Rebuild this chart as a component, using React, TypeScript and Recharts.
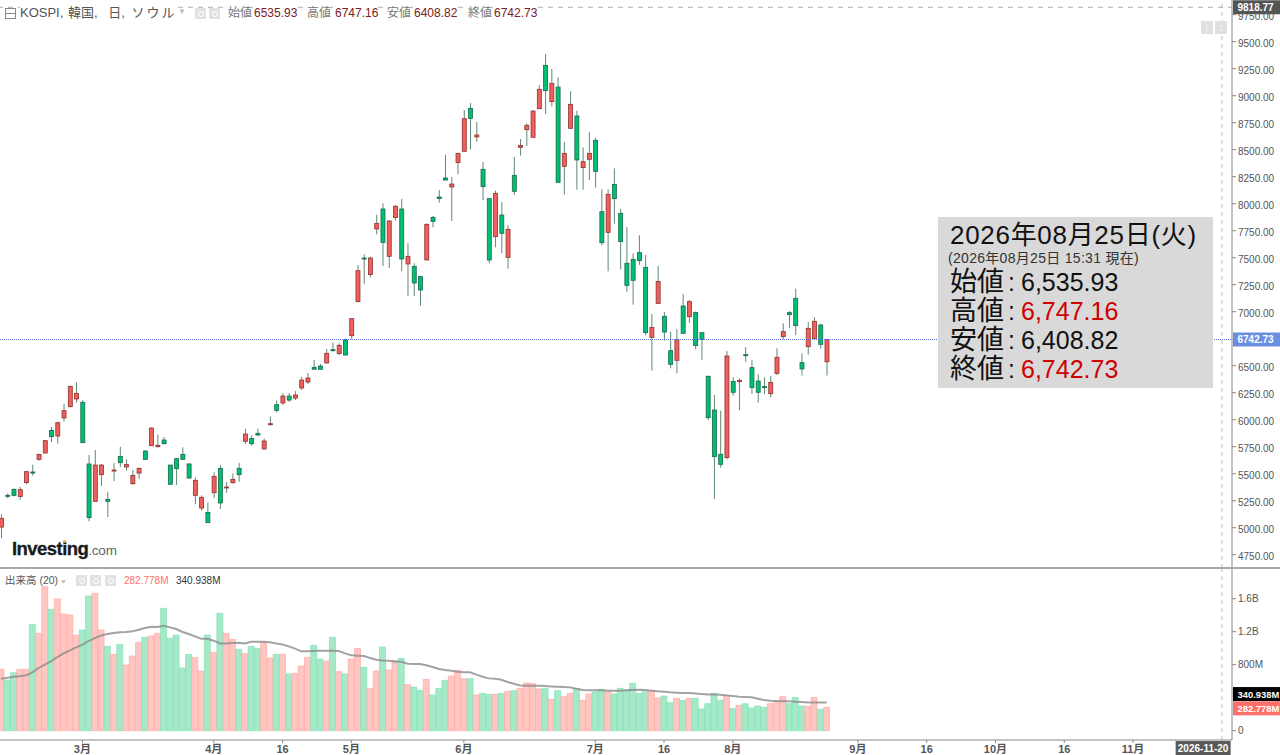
import { Bar, Cell, ComposedChart, Line, ReferenceLine, XAxis, YAxis } from 'recharts';

const FONT = '"Liberation Sans", "Noto Sans CJK JP", sans-serif';
const UP = '#f0605a';
const DOWN = '#00bf73';

const opens = [
  5006, 5300, 5355, 5290, 5417, 5516, 5633, 5692, 5901, 5849,
  6016, 6121, 6192, 6161, 5590, 5244, 5491, 5263, 5525, 5661,
  5562, 5408, 5506, 5710, 5759, 5750, 5812, 5580, 5639, 5679,
  5590, 5300, 5182, 5142, 5324, 5550, 5371, 5417, 5550, 5800,
  5827, 5874, 5729, 5954, 6139, 6155, 6219, 6200, 6294, 6349,
  6485, 6497, 6525, 6649, 6612, 6738, 6778, 7093, 7497, 7343,
  7766, 7951, 7513, 7871, 7951, 7442, 7420, 7325, 7479, 7874,
  8062, 8238, 8155, 8380, 8485, 8883, 8618, 8318, 8047, 7695,
  7895, 7503, 8263, 8522, 8685, 8615, 8880, 9281, 8945, 9080,
  8346, 8698, 8812, 8334, 8411, 8587, 7926, 7735, 8179, 7911,
  7448, 7485, 7547, 7411, 6763, 7077, 6957, 6639, 6550, 7053,
  6954, 6994, 6806, 6402, 6090, 5680, 5649, 6355, 6352, 6602,
  6482, 6358, 6306, 6241, 6429, 6769, 6991, 7124, 6528, 6676,
  6753, 6877, 6535.93,
];
const highs = [
  5124, 5318, 5364, 5377, 5525, 5584, 5685, 5812, 5932, 5982,
  6148, 6315, 6346, 6179, 5673, 5719, 5590, 5330, 5599, 5750,
  5633, 5534, 5556, 5719, 5929, 5861, 5840, 5580, 5645, 5744,
  5596, 5466, 5300, 5235, 5513, 5580, 5423, 5503, 5599, 5917,
  5855, 5917, 5827, 6031, 6179, 6247, 6247, 6265, 6395, 6432,
  6553, 6516, 6655, 6713, 6707, 6751, 6936, 7433, 7531, 7510,
  7898, 8003, 7849, 7988, 8044, 7633, 7448, 7325, 7818, 7886,
  8127, 8454, 8247, 8472, 8868, 8932, 8756, 8386, 8047, 8121,
  8014, 7803, 8432, 8599, 8744, 8864, 9099, 9386, 9247, 9170,
  8571, 9040, 8861, 8522, 8661, 8611, 8133, 8133, 8327, 7951,
  7784, 7541, 7707, 7525, 6979, 7423, 6997, 6815, 6837, 7164,
  7108, 7000, 6806, 6408, 6229, 6082, 6636, 6392, 6383, 6673,
  6553, 6420, 6392, 6405, 6661, 6892, 7006, 7213, 6614, 6905,
  6948, 6889, 6747.16,
];
const lows = [
  4902, 5272, 5290, 5260, 5402, 5482, 5621, 5688, 5793, 5778,
  5982, 6114, 6158, 5787, 5059, 5244, 5386, 5099, 5432, 5562,
  5528, 5395, 5451, 5633, 5759, 5744, 5769, 5402, 5395, 5633,
  5451, 5219, 5158, 5047, 5275, 5173, 5324, 5408, 5426, 5775,
  5759, 5852, 5726, 5945, 6065, 6136, 6164, 6182, 6275, 6330,
  6460, 6467, 6522, 6630, 6596, 6596, 6744, 7087, 7257, 7318,
  7716, 7423, 7405, 7843, 7374, 7146, 7146, 7056, 7479, 7781,
  8010, 8219, 7840, 8272, 8482, 8503, 8574, 8034, 7448, 7596,
  7541, 7399, 8081, 8445, 8534, 8611, 8874, 8830, 8901, 8195,
  8084, 8695, 8130, 8130, 8219, 8148, 7615, 7374, 7815, 7392,
  7186, 7065, 7433, 6784, 6454, 7077, 6732, 6476, 6429, 6794,
  6898, 6652, 6553, 5997, 5266, 5556, 5633, 6223, 6087, 6537,
  6238, 6158, 6238, 6207, 6414, 6744, 6852, 6784, 6408, 6602,
  6738, 6658, 6408.82,
];
const closes = [
  5087, 5294, 5300, 5352, 5519, 5506, 5679, 5806, 5843, 5972,
  6084, 6309, 6244, 5787, 5093, 5580, 5580, 5244, 5534, 5602,
  5584, 5485, 5550, 5633, 5923, 5763, 5778, 5402, 5547, 5633,
  5460, 5439, 5281, 5047, 5476, 5229, 5377, 5448, 5491, 5867,
  5778, 5858, 5803, 5963, 6087, 6219, 6182, 6229, 6367, 6386,
  6467, 6467, 6615, 6639, 6689, 6599, 6936, 7380, 7488, 7497,
  7818, 7642, 7840, 7976, 7488, 7513, 7266, 7201, 7809, 7837,
  8047, 8219, 8182, 8466, 8787, 8790, 8636, 8158, 7479, 8096,
  7726, 7763, 8115, 8540, 8726, 8858, 9059, 9047, 9114, 8198,
  8466, 8920, 8405, 8389, 8466, 8300, 7639, 8087, 8047, 7649,
  7244, 7291, 7473, 6806, 6855, 7281, 6812, 6513, 6741, 6800,
  7093, 6686, 6744, 6019, 5658, 5587, 6590, 6254, 6365, 6593,
  6297, 6254, 6297, 6346, 6578, 6815, 6973, 6871, 6470, 6846,
  6911, 6698, 6742.73,
];
// volume in millions
const volumes = [
  743, 614, 703, 743, 743, 1289, 1180, 1745, 1471, 1596,
  1414, 1402, 1159, 1220, 1632, 1664, 1220, 1022, 925, 1046,
  796, 905, 1071, 1131, 1147, 1180, 1483, 1119, 1159, 760,
  925, 889, 723, 1159, 949, 1422, 1180, 1107, 986, 933,
  1022, 998, 1075, 881, 925, 925, 687, 695, 784, 889,
  1034, 869, 844, 1131, 715, 687, 869, 998, 768, 513,
  723, 1014, 735, 848, 877, 558, 529, 489, 622, 432,
  513, 610, 663, 731, 630, 630, 432, 452, 440, 440,
  452, 477, 485, 513, 578, 570, 505, 513, 380, 485,
  412, 452, 509, 368, 444, 469, 501, 469, 444, 513,
  493, 574, 452, 473, 481, 396, 420, 339, 392, 368,
  392, 392, 263, 327, 452, 368, 428, 267, 307, 327,
  275, 299, 283, 327, 356, 412, 327, 404, 299, 295,
  404, 259, 282.778,
];
const volumeMa = [
  630, 642, 654, 659, 671, 707, 760, 800, 844, 893,
  937, 974, 1010, 1042, 1087, 1123, 1155, 1172, 1184, 1192,
  1196, 1204, 1224, 1244, 1260, 1256, 1273, 1252, 1232, 1196,
  1172, 1143, 1115, 1115, 1091, 1058, 1058, 1063, 1067, 1058,
  1079, 1079, 1079, 1071, 1058, 1046, 1022, 994, 962, 962,
  966, 970, 970, 970, 966, 937, 913, 909, 905, 881,
  861, 852, 848, 840, 836, 812, 808, 808, 792, 772,
  747, 735, 727, 715, 707, 707, 679, 654, 634, 630,
  618, 590, 570, 549, 545, 545, 545, 541, 537, 533,
  529, 525, 509, 493, 489, 489, 489, 485, 485, 485,
  489, 493, 497, 493, 485, 477, 473, 465, 461, 457,
  457, 452, 444, 440, 440, 436, 428, 420, 412, 408,
  404, 388, 372, 364, 360, 356, 356, 351, 347, 343,
  343, 343, 340.938,
];

const SLOT_COUNT = 197;
const tickSlots = [13, 34, 45, 56, 74, 95, 106, 117, 137, 148, 159, 170, 181];
const tickTexts = ['3月', '4月', '16', '5月', '6月', '7月', '16', '8月', '9月', '16', '10月', '16', '11月'];
// 6750 is hidden under the last price tag in the original
const priceTicks = [
  4750, 5000, 5250, 5500, 5750, 6000, 6250, 6500, 7000, 7250,
  7500, 7750, 8000, 8250, 8500, 8750, 9000, 9250, 9500, 9750,
];
const volumeTicks = [0, 800, 1200, 1600];
const CROSS_SLOT = 195;
const CROSS_PRICE = 9818.77;
const LAST_CLOSE = 6742.73;
const LAST_VOLUME = 282.778;
const LAST_MA = 340.938;

const rows = Array.from({ length: SLOT_COUNT }, (_, slot) =>
  slot < opens.length
    ? {
        slot,
        open: opens[slot],
        high: highs[slot],
        low: lows[slot],
        close: closes[slot],
        range: [lows[slot], highs[slot]],
        volume: volumes[slot],
        ma: volumeMa[slot],
      }
    : { slot },
);

const Candle = (props: any) => {
  const { x, y, width, height, payload } = props;
  if (!payload || payload.open === undefined) return null;
  const perUnit = height / (payload.high - payload.low);
  const yOf = (v: number) => y + (payload.high - v) * perUnit;
  const up = payload.close >= payload.open;
  const top = yOf(Math.max(payload.open, payload.close));
  const bottom = yOf(Math.min(payload.open, payload.close));
  const mid = x + width / 2;
  return (
    <g>
      <line x1={mid} x2={mid} y1={y} y2={y + height} stroke="#5f8a76" strokeWidth={1} />
      <rect
        x={x + 0.5}
        y={top}
        width={width - 1}
        height={Math.max(bottom - top, 1)}
        fill={up ? UP : DOWN}
        stroke={up ? '#8f3030' : '#17694a'}
        strokeWidth={0.8}
      />
    </g>
  );
};

// the y axis sits on the right, so the line runs from axis side to far side
const priceTag = (text: string, fill: string, lineColor: string, dash: string, dy = 0, size = 10) => (p: any) => {
  const right = Math.max(p.x1, p.x2);
  const left = Math.min(p.x1, p.x2);
  return (
    <g>
      <line x1={left} x2={right} y1={p.y1} y2={p.y2} stroke={lineColor} strokeDasharray={dash} />
      <rect x={right + 1} y={p.y1 - 7 + dy} width={48} height={14} fill={fill} />
      <text
        x={right + 5.5}
        y={p.y1 + 3.5 + dy}
        fill="#fff"
        fontSize={size}
        fontWeight="bold"
        fontFamily={FONT}
      >
        {text}
      </text>
    </g>
  );
};

const vertCross = (p: any) => (
  <line x1={p.x1 + 1.3} x2={p.x2 + 1.3} y1={p.y1} y2={p.y2} stroke="#cfcfcf" strokeWidth={1.4} strokeDasharray="4 4" />
);

const dateCross = (p: any) => {
  const bottom = Math.max(p.y1, p.y2);
  return (
    <g>
      {vertCross(p)}
      <rect x={p.x1 - 45} y={bottom + 1} width={55} height={15} fill="#5a5a5a" />
      <text x={p.x1 - 17.5} y={bottom + 12} fill="#fff" fontSize={10} fontWeight="bold" textAnchor="middle" fontFamily={FONT}>
        2026-11-20
      </text>
    </g>
  );
};

// price labels in the original sit slightly under their tick marks
const PriceTick = (p: any) => (
  <text x={p.x} y={p.y + 5} fontSize={10} fill="#555" fontFamily={FONT} textAnchor="start">
    {p.payload.value.toFixed(2)}
  </text>
);

const abs = (left: number, top: number, style: any = {}): any => ({
  position: 'absolute',
  left,
  top,
  whiteSpace: 'nowrap',
  fontFamily: FONT,
  ...style,
});

const IconBox = ({ left, top, size = 11 }: { left: number; top: number; size?: number }) => (
  <div style={abs(left, top, { width: size, height: size, background: '#e2e2e2' })}>
    <div
      style={{
        position: 'absolute',
        left: size / 2 - 3,
        top: size / 2 - 3,
        width: 4,
        height: 4,
        border: '1px solid #fff',
        borderRadius: 3,
      }}
    />
  </div>
);

const summaryRows = [
  { label: '始値', value: '6,535.93', color: '#111', top: 268 },
  { label: '高値', value: '6,747.16', color: '#cf0000', top: 297 },
  { label: '安値', value: '6,408.82', color: '#111', top: 326 },
  { label: '終値', value: '6,742.73', color: '#cf0000', top: 355 },
];

const headerValues = [
  { label: '始値', value: '6535.93', lx: 228, vx: 254 },
  { label: '高値', value: '6747.16', lx: 307, vx: 335 },
  { label: '安値', value: '6408.82', lx: 387, vx: 414 },
  { label: '終値', value: '6742.73', lx: 468, vx: 494 },
];

export default function App() {
  return (
    <div style={{ position: 'absolute', left: 0, top: 0, width: 1280, height: 755, overflow: 'hidden', background: '#fff' }}>
      <div style={{ position: 'absolute', left: -2, top: 0 }}>
        <ComposedChart width={1282} height={568} data={rows} margin={{ top: 0, right: 0, bottom: 0, left: 0 }}>
          <XAxis dataKey="slot" type="category" hide padding={{ left: 0, right: 2 }} />
          <YAxis
            orientation="right"
            width={48}
            domain={[4627, 9886]}
            ticks={priceTicks}
            interval={0}
            allowDataOverflow
            tick={<PriceTick />}
            tickSize={4}
            tickMargin={2}
            stroke="#888"
          />
          <ReferenceLine x={CROSS_SLOT} shape={vertCross} />
          <Bar dataKey="range" barSize={5} shape={Candle} isAnimationActive={false} />
          <ReferenceLine y={LAST_CLOSE} shape={priceTag('6742.73', '#6b8fe0', '#5a6fd0', '1 1')} />
          <ReferenceLine y={CROSS_PRICE} shape={priceTag('9818.77', '#555', '#aaa', '5 5')} />
        </ComposedChart>
      </div>

      <div style={{ position: 'absolute', left: 0, top: 567, width: 1280, height: 2, background: '#a8a8a8' }} />

      <div style={{ position: 'absolute', left: -2, top: 569 }}>
        <ComposedChart width={1282} height={186} data={rows} margin={{ top: 0, right: 0, bottom: 0, left: 0 }}>
          <XAxis
            dataKey="slot"
            type="category"
            height={15}
            padding={{ left: 0, right: 2 }}
            ticks={tickSlots}
            interval={0}
            tickFormatter={(v: number) => tickTexts[tickSlots.indexOf(v)]}
            tick={{ fontSize: 11, fill: '#555', fontFamily: FONT, fontWeight: 'bold' }}
            tickSize={3}
            tickMargin={2}
            stroke="#888"
          />
          <YAxis
            orientation="right"
            width={48}
            domain={[-113, 1960]}
            ticks={volumeTicks}
            interval={0}
            allowDataOverflow
            tickFormatter={(v: number) => (v >= 1000 ? `${v / 1000}B` : v === 0 ? '0' : `${v}M`)}
            tick={{ fontSize: 10, fill: '#555', fontFamily: FONT }}
            tickSize={4}
            tickMargin={2}
            stroke="#888"
          />
          <Bar dataKey="volume" barSize={6} isAnimationActive={false}>
            {rows.map((r: any) => (
              <Cell
                key={r.slot}
                fill={r.close >= r.open ? '#ffc6c2' : '#a6e9c9'}
                stroke={r.close >= r.open ? '#ffaaa5' : '#80e2b6'}
                strokeWidth={0.7}
              />
            ))}
          </Bar>
          <Line dataKey="ma" stroke="#8c8c8c" strokeOpacity={0.8} strokeWidth={2} dot={false} isAnimationActive={false} />
          <ReferenceLine x={CROSS_SLOT} shape={dateCross} />
          <ReferenceLine y={LAST_VOLUME} shape={priceTag('282.778M', '#ff6f6a', 'none', '', 1, 9.4)} />
          <ReferenceLine y={LAST_MA} shape={priceTag('340.938M', '#000', 'none', '', -8.5, 9.4)} />
        </ComposedChart>
      </div>

      {/* header */}
      <div style={abs(5, 8, { width: 9, height: 9, border: '1px solid #888' })}>
        <div style={{ position: 'absolute', left: 0, top: 4, width: 9, height: 1, background: '#888' }} />
      </div>
      <div style={abs(20, 6, { fontSize: 13, color: '#555', background: '#fff', lineHeight: '14px' })}>
        KOSPI, <span style={{ marginLeft: 1 }}>韓国</span>, <span style={{ marginLeft: 7 }}>日</span>,{' '}
        <span style={{ marginLeft: 3, letterSpacing: 2 }}>ソウル</span>
      </div>
      <div style={abs(178, 7, { fontSize: 8, color: '#bbb', lineHeight: '10px' })}>▼</div>
      <IconBox left={195} top={8} />
      <IconBox left={209} top={8} />
      {headerValues.map((h) => (
        <div key={h.label}>
          <div style={abs(h.lx, 6, { fontSize: 12, color: '#777', background: '#fff', lineHeight: '14px' })}>{h.label}</div>
          <div style={abs(h.vx, 6, { fontSize: 12, color: '#7a2020', background: '#fff', lineHeight: '14px' })}>{h.value}</div>
        </div>
      ))}

      {/* scale buttons */}
      <div style={abs(1201, 21, { width: 12, height: 13, background: '#e0e0e0', color: '#fff', fontSize: 10, textAlign: 'center', lineHeight: '13px', fontWeight: 'bold' })}>↓</div>
      <div style={abs(1215, 21, { width: 12, height: 13, background: '#e0e0e0', color: '#fff', fontSize: 10, textAlign: 'center', lineHeight: '13px', fontWeight: 'bold' })}>↕</div>

      {/* logo */}
      <div style={abs(12, 538, { fontSize: 18.5, fontWeight: 'bold', color: '#1a1a1a', letterSpacing: -0.55, WebkitTextStroke: '0.3px #1a1a1a', lineHeight: '21px' })}>
        Investing<span style={{ fontSize: 13.5, fontWeight: 'normal', color: '#666', letterSpacing: -0.2, WebkitTextStroke: '0' }}>.com</span>
      </div>
      <div style={abs(62.5, 540, { width: 3, height: 3, borderRadius: 2, background: '#f5a623' })} />

      {/* volume legend */}
      <div style={abs(5, 574, { fontSize: 10.5, color: '#555', lineHeight: '13px' })}>出来高 (20)</div>
      <div style={abs(60, 577, { fontSize: 7, color: '#bbb', lineHeight: '9px' })}>▼</div>
      <IconBox left={76} top={575} />
      <IconBox left={90} top={575} />
      <IconBox left={105} top={575} />
      <div style={abs(124, 574, { fontSize: 10, color: '#ff6f6a', lineHeight: '13px' })}>282.778M</div>
      <div style={abs(176, 574, { fontSize: 10, color: '#333', lineHeight: '13px' })}>340.938M</div>

      {/* summary box */}
      <div style={abs(938, 217, { width: 275, height: 171, background: '#d9d9d9' })} />
      <div style={abs(950, 219, { fontSize: 26, color: '#111', letterSpacing: 0.7, lineHeight: '32px' })}>2026年08月25日(火)</div>
      <div style={abs(948, 250, { fontSize: 14, color: '#333', letterSpacing: 0.3, lineHeight: '17px' })}>(2026年08月25日 15:31 現在)</div>
      {summaryRows.map((r) => (
        <div key={r.label}>
          <div style={abs(950, r.top, { fontSize: 27, color: '#111', lineHeight: '28px' })}>{r.label}</div>
          <div style={abs(1008, r.top, { fontSize: 25, color: '#111', lineHeight: '28px' })}>:</div>
          <div style={abs(1021, r.top, { fontSize: 25, color: r.color, lineHeight: '28px' })}>{r.value}</div>
        </div>
      ))}
    </div>
  );
}
